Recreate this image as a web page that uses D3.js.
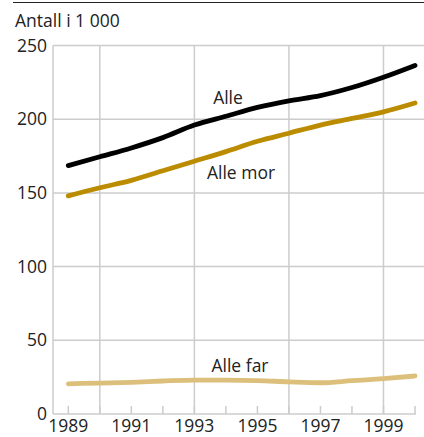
<!DOCTYPE html>
<html><head><meta charset="utf-8">
<script src="https://cdn.jsdelivr.net/npm/d3@7"></script>
<style>html,body{margin:0;padding:0;background:#fff;}svg{display:block;font-family:"Open Sans","Noto Sans",sans-serif;}</style>
</head><body>
<svg id="c" width="424" height="437"></svg>
<script>
const years = [1989,1990,1991,1992,1993,1994,1995,1996,1997,1998,1999,2000];
const alle    = [168.5,174.5,180.5,187.5,196,202,208,212.5,216,221.5,228.5,236.5];
const alleMor = [148,153.5,158.5,165,171.5,178,185,190.5,196,200.5,205,211];
const alleFar = [20.5,21,21.5,22.4,23,23,22.7,21.8,21.2,22.6,24,25.8];
const yTicks = [0,50,100,150,200,250];
const xTickLabels = [1989,1991,1993,1995,1997,1999];
const xGrid = [1990,1993,1996,1999];
const seriesNames = ["Alle","Alle mor","Alle far"];
const colors = ["#000000","#bb8b00","#dcbf7a"];

const svg = d3.select("#c");
const x = d3.scaleLinear().domain([1989,2000]).range([68.3,415]);
const y = d3.scaleLinear().domain([0,250]).range([414,45.5]);
const left = 53, right = 424;
const fs = 17.5;

svg.append("line").attr("x1",13).attr("x2",424).attr("y1",2.5).attr("y2",2.5)
  .attr("stroke","#222").attr("stroke-width",1.2);

svg.append("text").attr("x",15).attr("y",27).attr("font-size",fs).attr("fill","#222").text("Antall i 1 000");

svg.append("g").selectAll("line").data(yTicks.filter(d=>d>0)).join("line")
  .attr("x1",left).attr("x2",right).attr("y1",d=>y(d)).attr("y2",d=>y(d))
  .attr("stroke","#cccccc").attr("stroke-width",1.5);
svg.append("g").selectAll("line").data(xGrid).join("line")
  .attr("x1",d=>x(d)).attr("x2",d=>x(d)).attr("y1",y(250)).attr("y2",y(0))
  .attr("stroke","#cccccc").attr("stroke-width",1.5);
svg.append("line").attr("x1",left).attr("x2",left).attr("y1",y(250)).attr("y2",y(0))
  .attr("stroke","#cccccc").attr("stroke-width",1.5);
svg.append("line").attr("x1",left).attr("x2",x(2000)+1).attr("y1",y(0)).attr("y2",y(0))
  .attr("stroke","#cccccc").attr("stroke-width",1.5);
svg.append("g").selectAll("line").data(years).join("line")
  .attr("x1",d=>x(d)).attr("x2",d=>x(d)).attr("y1",y(0)).attr("y2",y(0)-8)
  .attr("stroke","#cccccc").attr("stroke-width",1.5);

svg.append("g").selectAll("text").data(yTicks).join("text")
  .attr("x",47).attr("y",d=>y(d)+6).attr("text-anchor","end").attr("font-size",fs).attr("fill","#222")
  .text(d=>d);
svg.append("g").selectAll("text").data(xTickLabels).join("text")
  .attr("x",d=>x(d)).attr("y",432).attr("text-anchor","middle").attr("font-size",fs).attr("fill","#222")
  .text(d=>d);

const line = d3.line().x((d,i)=>x(years[i])).y(d=>y(d)).curve(d3.curveMonotoneX);
[alleFar,alleMor,alle].forEach((s,k)=>{
  const idx = 2-k;
  svg.append("path").attr("d",line(s)).attr("fill","none")
    .attr("stroke",colors[idx]).attr("stroke-width",4.8).attr("stroke-linecap","round").attr("stroke-linejoin","round");
});

const lbl = [[228,104,0],[241,179,1],[240,372,2]];
lbl.forEach(([lx,ly,i])=>{
  svg.append("text").attr("x",lx).attr("y",ly).attr("text-anchor","middle").attr("font-size",fs).attr("fill","#222").text(seriesNames[i]);
});
</script>
</body></html>
